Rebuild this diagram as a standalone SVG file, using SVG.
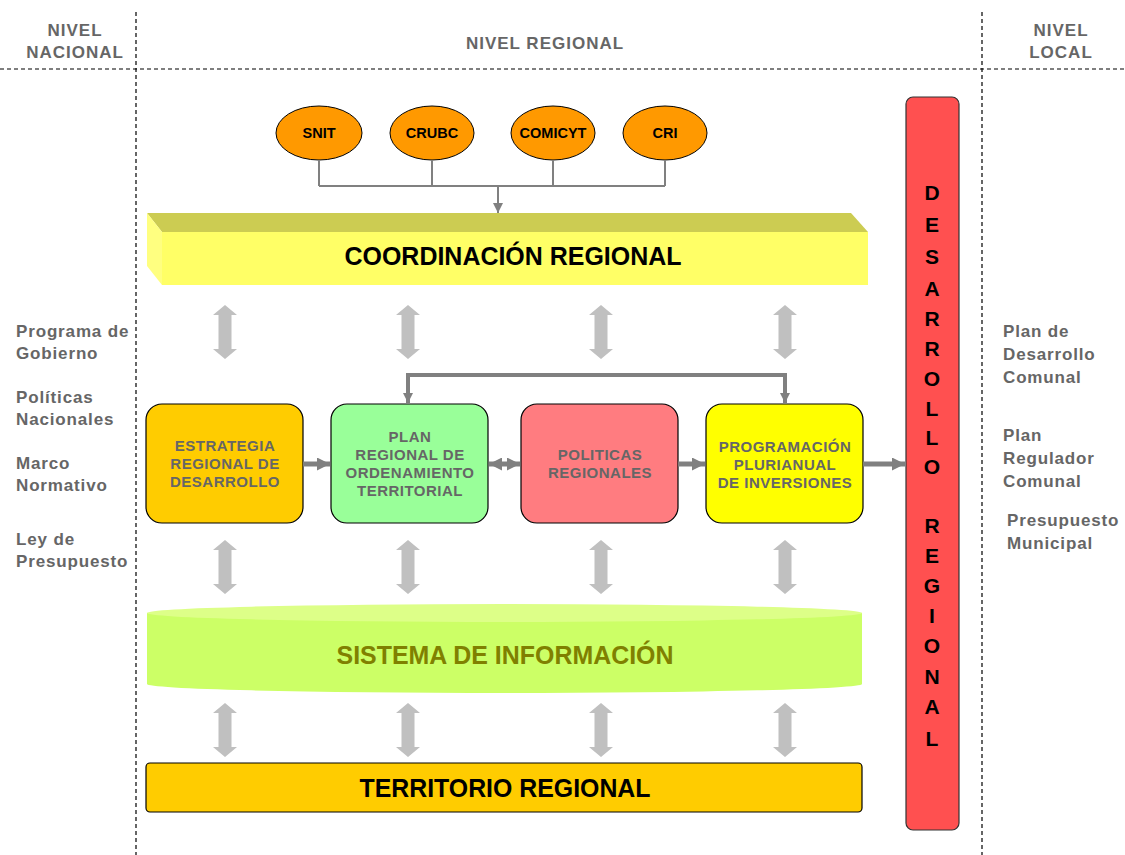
<svg xmlns="http://www.w3.org/2000/svg" width="1125" height="855" viewBox="0 0 1125 855">
<style>
.dash{stroke:#000;stroke-width:1.2;stroke-dasharray:4 3;fill:none}
.hdr{font-family:"Liberation Sans",Arial,sans-serif;font-weight:bold;font-size:17px;letter-spacing:1px;fill:#666;text-anchor:middle}
.side{font-family:"Liberation Sans",Arial,sans-serif;font-weight:bold;font-size:17px;letter-spacing:0.85px;fill:#666}
.ell{fill:#FF9900;stroke:#000;stroke-width:1}
.etx{font-family:"Liberation Sans",Arial,sans-serif;font-weight:bold;font-size:14.5px;fill:#000;text-anchor:middle}
.box{stroke:#000;stroke-width:1.2}
.btx{font-family:"Liberation Sans",Arial,sans-serif;font-weight:bold;font-size:15px;letter-spacing:0.5px;fill:#666;text-anchor:middle}
.big{font-family:"Liberation Sans",Arial,sans-serif;font-weight:bold;font-size:25px;text-anchor:middle}
.vt{font-family:"Liberation Sans",Arial,sans-serif;font-weight:bold;font-size:21px;fill:#000;text-anchor:middle}
.conn{stroke:#808080;fill:none}
.gray{fill:#C0C0C0}
</style>
<defs>
<path id="dbl" d="M0,-27 L12,-17 L6.5,-17 L6.5,17 L12,17 L0,27 L-12,17 L-6.5,17 L-6.5,-17 L-12,-17 Z"/>
<marker id="ah" viewBox="0 0 10 10" refX="10" refY="5" markerWidth="2.6" markerHeight="2.6" orient="auto-start-reverse" markerUnits="strokeWidth">
<path d="M0,0 L10,5 L0,10 Z" fill="#808080"/>
</marker>
<marker id="ahs" viewBox="0 0 10 10" refX="10" refY="5" markerWidth="5" markerHeight="5" orient="auto" markerUnits="strokeWidth">
<path d="M0,0 L10,5 L0,10 Z" fill="#808080"/>
</marker>
</defs>

<g id="dividers">
<line class="dash" x1="136" y1="12" x2="136" y2="855"/>
<line class="dash" x1="982" y1="12" x2="982" y2="855"/>
<line class="dash" x1="0" y1="69" x2="1125" y2="69"/>
</g>

<g id="headers">
<text class="hdr" x="75" y="36">NIVEL</text>
<text class="hdr" x="75" y="58">NACIONAL</text>
<text class="hdr" x="545" y="49">NIVEL REGIONAL</text>
<text class="hdr" x="1061" y="36">NIVEL</text>
<text class="hdr" x="1061" y="58">LOCAL</text>
</g>

<g id="left-texts">
<text class="side" x="16" y="337">Programa de</text>
<text class="side" x="16" y="359">Gobierno</text>
<text class="side" x="16" y="403">Políticas</text>
<text class="side" x="16" y="425">Nacionales</text>
<text class="side" x="16" y="469">Marco</text>
<text class="side" x="16" y="491">Normativo</text>
<text class="side" x="16" y="545">Ley de</text>
<text class="side" x="16" y="567">Presupuesto</text>
</g>

<g id="right-texts">
<text class="side" x="1003" y="337">Plan de</text>
<text class="side" x="1003" y="360">Desarrollo</text>
<text class="side" x="1003" y="383">Comunal</text>
<text class="side" x="1003" y="441">Plan</text>
<text class="side" x="1003" y="464">Regulador</text>
<text class="side" x="1003" y="487">Comunal</text>
<text class="side" x="1007" y="526">Presupuesto</text>
<text class="side" x="1007" y="549">Municipal</text>
</g>

<g id="snit"><ellipse class="ell" cx="319" cy="133" rx="43" ry="27"/><text class="etx" x="319" y="138">SNIT</text></g>
<g id="crubc"><ellipse class="ell" cx="432" cy="133" rx="42" ry="27"/><text class="etx" x="432" y="138">CRUBC</text></g>
<g id="comicyt"><ellipse class="ell" cx="553" cy="133" rx="42" ry="27"/><text class="etx" x="553" y="138">COMICYT</text></g>
<g id="cri"><ellipse class="ell" cx="665" cy="133" rx="42" ry="27"/><text class="etx" x="665" y="138">CRI</text></g>

<g id="coordinacion">
<polygon points="147,213 851,213 868,232 162,232" fill="#CCCC52"/>
<polygon points="147,213 162,232 162,285 147,266" fill="#FFFF80"/>
<rect x="162" y="232" width="706" height="53" fill="#FFFF66"/>
<text class="big" x="513" y="265" fill="#000" textLength="337" lengthAdjust="spacingAndGlyphs">COORDINACIÓN REGIONAL</text>
</g>

<g id="estrategia">
<rect class="box" x="146" y="404" width="157" height="119" rx="16" fill="#FFCC00"/>
<text class="btx" x="225" y="451">ESTRATEGIA</text>
<text class="btx" x="225" y="469">REGIONAL DE</text>
<text class="btx" x="225" y="487">DESARROLLO</text>
</g>
<g id="plan">
<rect class="box" x="331" y="404" width="157" height="119" rx="16" fill="#99FF99"/>
<text class="btx" x="410" y="442">PLAN</text>
<text class="btx" x="410" y="460">REGIONAL DE</text>
<text class="btx" x="410" y="478">ORDENAMIENTO</text>
<text class="btx" x="410" y="496">TERRITORIAL</text>
</g>
<g id="politicas">
<rect class="box" x="521" y="404" width="157" height="119" rx="16" fill="#FF7C80"/>
<text class="btx" x="600" y="460">POLITICAS</text>
<text class="btx" x="600" y="478">REGIONALES</text>
</g>
<g id="programacion">
<rect class="box" x="706" y="404" width="157" height="119" rx="16" fill="#FFFF00"/>
<text class="btx" x="785" y="452">PROGRAMACIÓN</text>
<text class="btx" x="785" y="470">PLURIANUAL</text>
<text class="btx" x="785" y="488">DE INVERSIONES</text>
</g>

<g id="sistema">
<path d="M147,613 L147,684 A357.5,9 0 0 0 862,684 L862,613 Z" fill="#CCFF66"/>
<ellipse cx="504.5" cy="613" rx="357.5" ry="9" fill="#DDFF88"/>
<text class="big" x="505" y="664" fill="#808000" textLength="337" lengthAdjust="spacingAndGlyphs">SISTEMA DE INFORMACIÓN</text>
</g>

<g id="territorio">
<rect x="146" y="763" width="716" height="49" rx="4" fill="#FFCC00" stroke="#000" stroke-width="1.2"/>
<text class="big" x="505" y="797" fill="#000" textLength="291" lengthAdjust="spacingAndGlyphs">TERRITORIO REGIONAL</text>
</g>

<g id="desarrollo-regional">
<rect x="906" y="97" width="53" height="733" rx="7" fill="#FF5050" stroke="#333" stroke-width="1.2"/>
<text class="vt" x="932" y="200">D</text>
<text class="vt" x="932" y="232">E</text>
<text class="vt" x="932" y="264">S</text>
<text class="vt" x="932" y="296">A</text>
<text class="vt" x="932" y="326">R</text>
<text class="vt" x="932" y="356">R</text>
<text class="vt" x="932" y="386">O</text>
<text class="vt" x="932" y="416">L</text>
<text class="vt" x="932" y="445">L</text>
<text class="vt" x="932" y="474">O</text>
<text class="vt" x="932" y="533">R</text>
<text class="vt" x="932" y="563">E</text>
<text class="vt" x="932" y="593">G</text>
<text class="vt" x="932" y="623">I</text>
<text class="vt" x="932" y="653">O</text>
<text class="vt" x="932" y="684">N</text>
<text class="vt" x="932" y="714">A</text>
<text class="vt" x="932" y="746">L</text>
</g>

<g id="connectors">
<path class="conn" stroke-width="2" d="M319,160 V186 M432,160 V186 M553,160 V186 M665,160 V186 M319,186 H665"/>
<line class="conn" stroke-width="2" x1="498" y1="186" x2="498" y2="213" marker-end="url(#ahs)"/>
<g class="gray">
<use href="#dbl" x="225" y="332"/><use href="#dbl" x="408" y="332"/><use href="#dbl" x="601" y="332"/><use href="#dbl" x="785" y="332"/>
<use href="#dbl" x="225" y="567"/><use href="#dbl" x="408" y="567"/><use href="#dbl" x="601" y="567"/><use href="#dbl" x="785" y="567"/>
<use href="#dbl" x="225" y="730"/><use href="#dbl" x="408" y="730"/><use href="#dbl" x="601" y="730"/><use href="#dbl" x="785" y="730"/>
</g>
<path class="conn" stroke-width="4" d="M408,403 V375 H785 V403" marker-start="url(#ah)" marker-end="url(#ah)"/>
<line class="conn" stroke-width="5" x1="303" y1="464" x2="330" y2="464" marker-end="url(#ah)"/>
<line class="conn" stroke-width="5" x1="489" y1="464" x2="520" y2="464" marker-start="url(#ah)" marker-end="url(#ah)"/>
<line class="conn" stroke-width="5" x1="678" y1="464" x2="705" y2="464" marker-end="url(#ah)"/>
<line class="conn" stroke-width="5" x1="863" y1="464" x2="905" y2="464" marker-end="url(#ah)"/>
</g>
</svg>
